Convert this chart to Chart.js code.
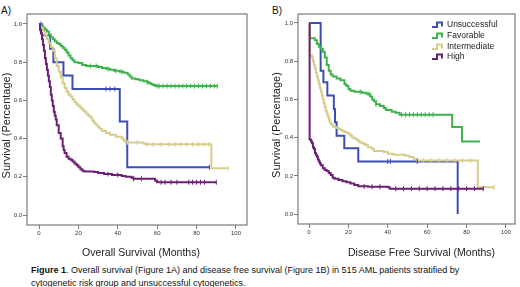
<!DOCTYPE html>
<html>
<head>
<meta charset="utf-8">
<script src="https://cdn.jsdelivr.net/npm/chart.js@4.4.1/dist/chart.umd.min.js"></script>
<style>
  body { margin: 0; background: #fff; font-family: "Liberation Sans", Arial, sans-serif; }
  #page { position: relative; width: 520px; height: 287px; overflow: hidden; }
  .panel { position: absolute; top: 0; width: 260px; height: 262px; }
  .tag { position: absolute; top: 5px; font-size: 10px; color: #111; }
  #caption { position: absolute; left: 31px; top: 264px; width: 440px; font-size: 9px; line-height: 12.5px; color: #111; }
</style>
</head>
<body>
<div id="page">
  <div class="tag" style="left:1px">A)</div>
  <div class="tag" style="left:272px">B)</div>
  <div class="panel" style="left:0"><canvas id="osChart" width="260" height="262"></canvas></div>
  <div class="panel" style="left:260px"><canvas id="dfsChart" width="260" height="262"></canvas></div>
  <div id="caption"><b>Figure 1</b>. Overall survival (Figure 1A) and disease free survival (Figure 1B) in 515 AML patients stratified by cytogenetic risk group and unsuccessful cytogenetics.</div>
</div>
<script>
// ---------------------------------------------------------------------------
// Data (months, survival fraction) - step points of each Kaplan-Meier curve
// ---------------------------------------------------------------------------

const groupNames = ['Unsuccessful', 'Favorable', 'Intermediate', 'High'];
const groupColors = ['#3b4fb3', '#3cb44b', '#d6cc8e', '#6b2075'];

const xTicks = [0, 20, 40, 60, 80, 100];
const yTicks = [0, 0.2, 0.4, 0.6, 0.8, 1.0];

// A) Overall survival
const osUnsuccessful = [[0, 1], [1.5, 0.94], [5.6, 0.87], [7.3, 0.80], [12.4, 0.73], [17, 0.66], [41, 0.49], [44.8, 0.25], [86.5, 0.25]];
const osFavorable = [[0, 1], [1, 0.99], [2, 0.98], [3, 0.97], [4, 0.96], [5, 0.945], [6, 0.93], [7, 0.92], [8, 0.91], [9, 0.90],
  [10, 0.895], [11, 0.885], [12, 0.875], [13, 0.865], [14, 0.85], [15, 0.835], [16, 0.82], [17, 0.81], [18, 0.80], [20, 0.795],
  [22, 0.785], [24, 0.78], [28, 0.78], [30, 0.775], [32, 0.77], [34, 0.765], [36, 0.76], [38, 0.755], [41, 0.75], [43, 0.745],
  [45, 0.735], [46, 0.725], [47, 0.715], [49, 0.71], [51, 0.705], [53, 0.70], [55, 0.695], [56, 0.69], [57, 0.685], [58, 0.68],
  [59, 0.675], [90.5, 0.675]];
const osIntermediate = [[0, 1], [1, 0.98], [2, 0.96], [3, 0.94], [4, 0.92], [5, 0.90], [6, 0.88], [7, 0.86], [8, 0.82], [9, 0.78],
  [10, 0.75], [11, 0.72], [12, 0.69], [13, 0.665], [14, 0.645], [15, 0.63], [16, 0.62], [17, 0.605], [18, 0.59], [19, 0.58],
  [20, 0.57], [21, 0.56], [22, 0.55], [23, 0.54], [24, 0.53], [25, 0.52], [26, 0.51], [27, 0.495], [28, 0.48], [29, 0.47],
  [30, 0.46], [31, 0.45], [32, 0.44], [34, 0.43], [36, 0.42], [39, 0.41], [42, 0.40], [43, 0.39], [44, 0.38], [53, 0.375],
  [54, 0.37], [87.5, 0.245], [96, 0.245]];
const osHigh = [[0, 1], [0.5, 0.97], [1, 0.95], [1.5, 0.92], [2, 0.89], [2.5, 0.86], [3, 0.82], [3.5, 0.79], [4, 0.76], [4.5, 0.73],
  [5, 0.70], [5.5, 0.67], [6, 0.63], [6.5, 0.60], [7, 0.57], [7.5, 0.54], [8, 0.52], [8.5, 0.50], [9, 0.47], [10, 0.43],
  [11, 0.40], [12, 0.36], [12.5, 0.34], [13, 0.325], [14, 0.305], [15, 0.295], [16, 0.29], [17, 0.28], [18, 0.27], [19, 0.26],
  [20, 0.25], [21, 0.24], [22, 0.232], [23, 0.228], [28, 0.225], [30, 0.22], [33, 0.215], [37, 0.21], [42, 0.205], [44, 0.20],
  [47, 0.195], [48, 0.19], [59, 0.18], [60, 0.172], [90, 0.172]];

// censored times (vertical ticks on the curves)
const osUnsuccessfulCens = [1, 34, 36, 38.5, 86.5];
const osFavorableCens = [26, 29, 35, 39, 42, 55, 60, 61, 63, 65, 67, 69, 71, 73, 75, 77, 79, 81, 83, 85, 87, 89, 90.5];
const osIntermediateCens = [45, 50, 55, 58, 62, 66, 69, 72, 75, 78, 81, 84, 86, 96];
const osHighCens = [35, 40, 48, 52, 62, 64, 67, 70, 76, 78, 80, 82, 84, 90];

// B) Disease free survival
const dfsUnsuccessful = [[0, 1], [5.9, 0.75], [7.3, 0.69], [9.3, 0.62], [12.6, 0.55], [13.2, 0.48], [14, 0.41], [17.9, 0.345], [25, 0.275], [75.5, 0]];
const dfsFavorable = [[0, 1], [0.5, 0.92], [3, 0.91], [4, 0.89], [5, 0.875], [6, 0.865], [7, 0.85], [8, 0.82], [9, 0.78], [10, 0.75],
  [11, 0.73], [12, 0.72], [14, 0.71], [16, 0.70], [18, 0.68], [19, 0.67], [20, 0.655], [21, 0.645], [23, 0.64], [27, 0.635],
  [29, 0.63], [31, 0.615], [32, 0.60], [33, 0.59], [34, 0.575], [36, 0.565], [38, 0.555], [39, 0.545], [42, 0.535], [44, 0.53],
  [46, 0.52], [72.7, 0.455], [77.7, 0.38], [86.8, 0.38]];
const dfsIntermediate = [[0, 1], [0.3, 0.83], [1.5, 0.82], [2, 0.80], [2.5, 0.78], [3, 0.76], [3.5, 0.74], [4, 0.72], [4.5, 0.70],
  [5, 0.68], [5.5, 0.66], [6, 0.64], [6.5, 0.62], [7, 0.60], [7.5, 0.58], [8, 0.56], [8.5, 0.54], [9, 0.525], [9.5, 0.51],
  [10, 0.495], [10.5, 0.48], [11, 0.47], [12, 0.46], [13, 0.455], [14, 0.45], [15, 0.445], [16, 0.44], [17, 0.435], [18, 0.43],
  [19, 0.425], [20, 0.42], [21, 0.41], [22, 0.40], [23, 0.395], [24, 0.39], [25, 0.38], [26, 0.375], [27, 0.37], [28, 0.365],
  [29, 0.36], [30, 0.35], [32, 0.34], [33, 0.33], [38, 0.325], [40, 0.315], [43, 0.31], [49, 0.305], [51, 0.298], [53, 0.29],
  [55, 0.28], [85.7, 0.14], [94, 0.14]];
const dfsHigh = [[0, 1], [0.3, 0.39], [1, 0.38], [1.5, 0.37], [2, 0.35], [2.5, 0.34], [3, 0.32], [3.5, 0.31], [4, 0.30], [4.5, 0.285],
  [5, 0.275], [5.5, 0.265], [6, 0.255], [7, 0.24], [8, 0.23], [9, 0.225], [10, 0.215], [11, 0.205], [12, 0.19], [13, 0.185],
  [15, 0.178], [17, 0.172], [19, 0.167], [21, 0.16], [23, 0.152], [25, 0.145], [30, 0.143], [35, 0.143], [40, 0.14], [41, 0.133],
  [88.5, 0.133]];

const dfsUnsuccessfulCens = [40, 41.3, 55];
const dfsFavorableCens = [26, 30, 34, 47, 49, 51, 53, 55, 57, 59, 61, 63];
const dfsIntermediateCens = [58, 62, 66, 70, 74, 78, 82, 94];
const dfsHighCens = [28, 32, 36, 44, 48, 52, 56, 60, 64, 68, 72, 76, 80, 84, 88.5];

// ---------------------------------------------------------------------------
// Helpers
// ---------------------------------------------------------------------------

const FONT = '"Liberation Sans", Arial, sans-serif';
const toPoints = arr => arr.map(([x, y]) => ({ x, y }));

// survival value of a step curve at time t (used to sit censor ticks on the line)
function stepValueAt(curve, t) {
  let v = curve[0][1];
  for (const [x, y] of curve) {
    if (x <= t) v = y; else break;
  }
  return v;
}

function buildDatasets(curves, censors) {
  const lines = curves.map((curve, i) => ({
    label: groupNames[i],
    data: toPoints(curve),
    borderColor: groupColors[i],
    borderWidth: 2,
    stepped: 'before',   // hold the old value, then drop at the event time
    pointRadius: 0,
    fill: false,
    order: 3 - i
  }));
  const marks = censors.map((times, i) => ({
    label: groupNames[i] + ' censored',
    data: times.map(t => ({ x: t, y: stepValueAt(curves[i], t) })),
    borderColor: groupColors[i],
    backgroundColor: groupColors[i],
    showLine: false,
    pointStyle: 'line',
    rotation: 90,
    pointRadius: 2.5,
    pointBorderWidth: 1,
    order: -1
  }));
  return [...lines, ...marks];
}

// full box round the plot area
const framePlugin = {
  id: 'frame',
  afterDraw(chart) {
    const { ctx, chartArea: a } = chart;
    ctx.save();
    ctx.strokeStyle = '#7a7a7a';
    ctx.lineWidth = 1.2;
    ctx.strokeRect(a.left, a.top, a.right - a.left, a.bottom - a.top);
    ctx.restore();
  }
};

// axis titles, placed a little off-centre as in the source figure
const axisTitlePlugin = {
  id: 'axisTitles',
  afterDraw(chart, args, o) {
    const { ctx, chartArea: a } = chart;
    ctx.save();
    ctx.fillStyle = '#222';
    ctx.textAlign = 'center';
    ctx.textBaseline = 'middle';
    ctx.font = `10.5px ${FONT}`;
    ctx.fillText(o.xText, (a.left + a.right) / 2 + o.xShift, o.xY);
    ctx.translate(o.yX, (a.top + a.bottom) / 2 + o.yShift);
    ctx.rotate(-Math.PI / 2);
    ctx.font = `11px ${FONT}`;
    ctx.fillText(o.yText, 0, 0);
    ctx.restore();
  }
};

// step-shaped legend inside panel B
const stepLegendPlugin = {
  id: 'stepLegend',
  afterDraw(chart) {
    const { ctx } = chart;
    const x0 = 172, rowY = [25, 36, 47, 57];
    ctx.save();
    ctx.font = `8.5px ${FONT}`;
    ctx.textBaseline = 'middle';
    groupNames.forEach((name, i) => {
      const y = rowY[i];
      ctx.strokeStyle = groupColors[i];
      ctx.lineWidth = 2;
      ctx.beginPath();
      ctx.moveTo(x0, y + 2);
      ctx.lineTo(x0 + 5, y + 2);
      ctx.lineTo(x0 + 5, y - 2.5);
      ctx.lineTo(x0 + 10, y - 2.5);
      ctx.lineTo(x0 + 10, y + 1.5);
      ctx.stroke();
      ctx.fillStyle = '#222';
      ctx.fillText(name, x0 + 15, y);
    });
    ctx.restore();
  }
};

function renderSurvivalChart(canvasId, curves, censors, opts) {
  const ctx = document.getElementById(canvasId);
  const tickFont = { family: FONT, size: 6 };
  return new Chart(ctx, {
    type: 'line',
    data: { datasets: buildDatasets(curves, censors) },
    plugins: opts.plugins,
    options: {
      responsive: false,
      animation: false,
      layout: { padding: opts.padding },
      plugins: {
        legend: { display: false },
        tooltip: { enabled: false },
        axisTitles: opts.titles
      },
      scales: {
        x: {
          type: 'linear',
          min: opts.xMin,
          max: opts.xMax,
          afterBuildTicks: s => { s.ticks = xTicks.map(v => ({ value: v })); },
          afterFit: s => { s.height = opts.xAxisHeight; },
          border: { display: false },
          grid: { drawOnChartArea: false, drawTicks: true, tickLength: 4, color: '#7a7a7a', lineWidth: 1 },
          ticks: { font: tickFont, color: '#333', padding: 1, maxRotation: 0, autoSkip: false }
        },
        y: {
          min: opts.yMin,
          max: opts.yMax,
          afterBuildTicks: s => { s.ticks = yTicks.map(v => ({ value: v })); },
          afterFit: s => { s.width = opts.yAxisWidth; },
          border: { display: false },
          grid: { drawOnChartArea: false, drawTicks: true, tickLength: 4, color: '#7a7a7a', lineWidth: 1 },
          ticks: { font: tickFont, color: '#333', padding: 1, callback: v => v.toFixed(1) }
        }
      }
    }
  });
}

renderSurvivalChart('osChart',
  [osUnsuccessful, osFavorable, osIntermediate, osHigh],
  [osUnsuccessfulCens, osFavorableCens, osIntermediateCens, osHighCens],
  {
    xMin: -6.1, xMax: 105.6, yMin: -0.052, yMax: 1.052,
    padding: { left: 0, top: 14, right: 13, bottom: 0 },
    yAxisWidth: 27, xAxisHeight: 37,
    titles: { xText: 'Overall Survival (Months)', xShift: 4, xY: 253, yText: 'Survival (Percentage)', yX: 7, yShift: 6 },
    plugins: [framePlugin, axisTitlePlugin]
  });

renderSurvivalChart('dfsChart',
  [dfsUnsuccessful, dfsFavorable, dfsIntermediate, dfsHigh],
  [dfsUnsuccessfulCens, dfsFavorableCens, dfsIntermediateCens, dfsHighCens],
  {
    xMin: -5.6, xMax: 104.6, yMin: -0.052, yMax: 1.047,
    padding: { left: 10, top: 14, right: 5, bottom: 0 },
    yAxisWidth: 28, xAxisHeight: 38,
    titles: { xText: 'Disease Free Survival (Months)', xShift: 15, xY: 253, yText: 'Survival (Percentage)', yX: 17, yShift: 6 },
    plugins: [framePlugin, axisTitlePlugin, stepLegendPlugin]
  });
</script>
</body>
</html>
